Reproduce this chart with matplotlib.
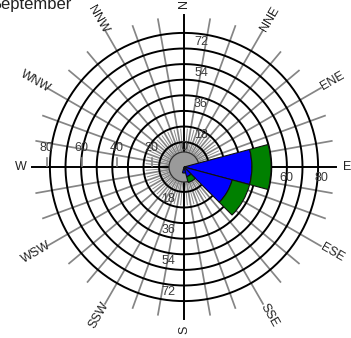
import numpy as np
import matplotlib
matplotlib.use('Agg')
import matplotlib.pyplot as plt
from matplotlib.patches import Wedge, Circle

plt.rcParams['font.family'] = ['Liberation Sans', 'DejaVu Sans']

# frequency (%) per direction bin and speed class
directions = [90, 120, 150, 180]          # compass degrees, bin centres
freq_cyan = [1.2, 1.0, 1.0, 1.5]
freq_blue = [38.3, 28.0, 4.8, 2.0]
freq_green = [11.1, 10.5, 3.5, 0.0]
class_colors = ['#00d8ff', '#0000ff', '#008000']
BIN_WIDTH = 30

dir_labels = ['N', 'NNE', 'ENE', 'E', 'ESE', 'SSE',
              'S', 'SSW', 'WSW', 'W', 'WNW', 'NNW']
vert_ticks = [18, 36, 54, 72]
horz_left = [80, 60, 40, 20]
horz_right = [60, 80]

# geometry (axis units == pixels)
K = 1.72            # px per percent
R_HOLE = 15
R_IN, STEP, N_RINGS = 9.3, 15.6, 8
R_SPOKE, R_SPOKE_LONG, R_AXIS = 150, 158, 152


def pol(r, a):
    t = np.radians(a)
    return r * np.sin(t), r * np.cos(t)


fig = plt.figure(figsize=(3.51, 3.38), dpi=100)
ax = fig.add_axes([0, 0, 1, 1])
ax.set_xlim(-184, 167)
ax.set_ylim(-171, 167)
ax.axis('off')

# radial spokes
for a in range(0, 360, 10):
    if a % 90 == 0:
        continue
    r_end = R_SPOKE_LONG if a % 30 == 0 else R_SPOKE
    x0, y0 = pol(R_HOLE, a)
    x1, y1 = pol(r_end, a)
    ax.plot([x0, x1], [y0, y1], color='#858585', lw=1.25, zorder=1)
for a in range(5, 360, 10):
    x0, y0 = pol(R_HOLE, a)
    x1, y1 = pol(38, a)
    ax.plot([x0, x1], [y0, y1], color='#8c8c8c', lw=0.7, zorder=1)

# rings
th = np.linspace(0, 2 * np.pi, 400)
for i in range(1, N_RINGS + 1):
    r = R_IN + STEP * i
    ax.plot(r * np.cos(th), r * np.sin(th), color='black', lw=1.4, zorder=2)

# main axes
ax.plot([-R_AXIS, R_AXIS], [0, 0], color='black', lw=1.4, zorder=2)
ax.plot([0, 0], [-R_AXIS, R_AXIS], color='black', lw=1.4, zorder=2)

# tick marks on the west axis
for v in horz_left:
    r = 1.75 * v - 2.7
    ax.plot([-r, -r], [1, 9], color='#858585', lw=1.2, zorder=2)

# ring labels
lab_kw = dict(fontsize=9, color='#3a3a3a', ha='center', va='center', zorder=3)
for v in vert_ticks:
    r = 1.72 * v + 1
    ax.text(17, r, str(v), **lab_kw)
    ax.text(-16, -r, str(v), **lab_kw)
ax.text(0, 20, '0', **lab_kw)
for v in horz_left:
    ax.text(-(1.75 * v - 2.7), 19, str(v), **lab_kw)
for v in horz_right:
    ax.text(1.75 * v - 2.7, -11, str(v), **lab_kw)

# calm circle
ax.add_patch(Circle((0, 0), R_HOLE, facecolor='#9a9a9a', edgecolor='#333333',
                    lw=0.9, zorder=4))

# stacked wedges
for d, c1, c2, c3 in zip(directions, freq_cyan, freq_blue, freq_green):
    t1 = 90 - (d + BIN_WIDTH / 2)
    t2 = 90 - (d - BIN_WIDTH / 2)
    inner = 0
    for f, col in zip((c1, c2, c3), class_colors):
        if f <= 0:
            continue
        outer = inner + f
        ax.add_patch(Wedge((0, 0), K * outer, t1, t2, width=K * f,
                           facecolor=col, edgecolor='#101010', lw=0.8,
                           zorder=5))
        inner = outer

# compass labels
for i, name in enumerate(dir_labels):
    a = i * 30
    r = 163 if len(name) == 1 else 171
    x, y = pol(r, a)
    rot = (90 - a) % 180
    if rot > 90:
        rot -= 180
    ax.text(x, y, name, fontsize=9, color='#222222', rotation=rot,
            rotation_mode='anchor', ha='center', va='center', zorder=6)

fig.text(72 / 351, 1 - 9.5 / 338, 'September', fontsize=12, color='#222222',
         ha='right', va='baseline')

fig.savefig('out.png', dpi=100, facecolor='white')
